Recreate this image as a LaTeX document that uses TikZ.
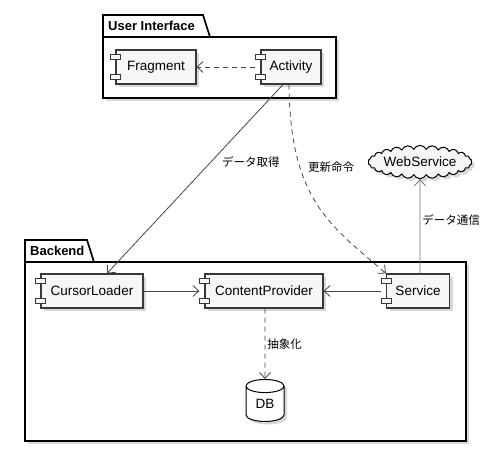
\documentclass[tikz,border=0pt]{standalone}
\usepackage{fontspec}
\setmainfont{Liberation Sans}
\newfontfamily\jpfont{Noto Sans CJK JP}
\usepackage{xcolor}
\usepackage{tikz}
\usetikzlibrary{arrows.meta,shapes.geometric,shapes.symbols,shadows}
\definecolor{umlborder}{HTML}{383838}
\definecolor{umlfill}{HTML}{F6F6F6}
\definecolor{umlline}{HTML}{454545}
\tikzset{
  umlshadow/.style = {drop shadow={opacity=0.3,shadow xshift=3pt,shadow yshift=-3pt}},
  comp/.style      = {draw=umlborder,fill=umlfill,line width=1.1pt,minimum height=34pt,
                      inner sep=0pt,font=\fontsize{13.5}{15}\selectfont,umlshadow},
  compicon/.style  = {draw=umlborder,fill=umlfill,line width=0.9pt},
  pkgline/.style   = {draw=black,fill=white,line width=1.7pt},
  pkgtitle/.style  = {font=\bfseries\fontsize{13}{15}\selectfont,inner sep=0pt,anchor=west},
  openarr/.style   = {-{Straight Barb[length=6pt,width=11pt]},umlline,line width=0.8pt},
  dasharr/.style   = {openarr,dash pattern=on 5pt off 4pt},
  edgelabel/.style = {font=\jpfont\fontsize{11.5}{13}\selectfont,text=black,inner sep=2pt}
}
\newcommand{\compmarks}[1]{%
  \draw[compicon] ([xshift=-5pt,yshift=7.5pt]#1.west) rectangle ([xshift=5pt,yshift=12.5pt]#1.west);
  \draw[compicon] ([xshift=-5pt,yshift=-7.5pt]#1.west) rectangle ([xshift=5pt,yshift=-12.5pt]#1.west);
}
\newcommand{\umlpackage}[8]{%
  \draw[pkgline] (#2,#4) -- (#2,#3) -- (#5,#3) -- ({#5+7},#4) -- cycle;
  \draw[pkgline,umlshadow] (#2,#4) rectangle (#6,#7);
  \node[pkgtitle] (#1) at ({#2+5},{(#3+#4)/2}) {#8};
}

\begin{document}
\begin{tikzpicture}[x=1pt,y=-1pt]
  \useasboundingbox (0,0) rectangle (500,470);
  \umlpackage{uititle}{103}{15}{37}{203}{336}{98}{User Interface}
  \umlpackage{betitle}{25}{240}{262}{87}{466}{441}{Backend}
  \node[comp,minimum width=80pt]  (frag) at (156,67)  {Fragment};
  \node[comp,minimum width=60pt]  (act)  at (291,67)  {Activity};
  \node[comp,minimum width=102pt] (cl)   at (92,291)  {CursorLoader};
  \node[comp,minimum width=118pt] (cp)   at (264,291) {ContentProvider};
  \node[comp,minimum width=63pt]  (srv)  at (418,291) {Service};
  \compmarks{frag}
  \compmarks{act}
  \compmarks{cl}
  \compmarks{cp}
  \compmarks{srv}
  \node[cloud,cloud puffs=26,cloud puff arc=130,aspect=4,draw=black,fill=umlfill,line width=1pt,
        minimum width=93pt,minimum height=23pt,inner sep=0pt,font=\fontsize{13.5}{15}\selectfont,
        umlshadow] (websvc) at (420,162) {WebService};
  \node[cylinder,shape border rotate=90,aspect=0.7,draw=black,fill=white,line width=1pt,
        minimum width=38pt,minimum height=42pt,inner sep=0pt,font=\fontsize{13.5}{15}\selectfont,
        umlshadow] (db) at (265,404) {\raisebox{-6pt}{DB}};
  \draw[dasharr] ([xshift=-5pt]act.west) -- (frag.east);
  \draw[openarr] ([xshift=-8pt]act.south) -- node[edgelabel,pos=0.41,anchor=west,xshift=9pt] {データ取得} ([xshift=15pt]cl.north);
  \draw[dasharr] ([xshift=-2pt]act.south) .. controls (290,200) and (330,225) .. (srv.north west)
    node[edgelabel,pos=0.3,anchor=west,xshift=6pt] {更新命令};
  \draw[openarr,gray!90!black] ([xshift=2pt]srv.north) -- node[edgelabel,pos=0.57,anchor=west] {データ通信} (websvc.south);
  \draw[openarr] (cl.east) -- ([xshift=-5pt]cp.west);
  \draw[openarr] ([xshift=-5pt]srv.west) -- (cp.east);
  \draw[dasharr] ([xshift=1pt]cp.south) -- node[edgelabel,pos=0.5,anchor=west] {抽象化} (db.north);
\end{tikzpicture}
\end{document}
